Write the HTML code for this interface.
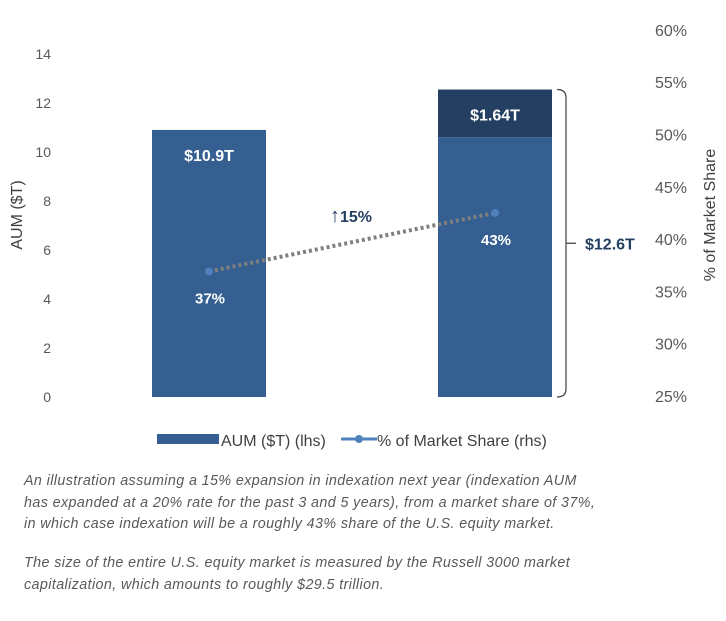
<!DOCTYPE html>
<html><head><meta charset="utf-8"><style>
body{margin:0;background:#fff;width:726px;height:621px;overflow:hidden;font-family:"Liberation Sans",sans-serif}
.note{position:absolute;left:24px;font-style:italic;color:#595959;font-size:14.3px;line-height:21.5px;white-space:nowrap;letter-spacing:0.4px}
</style></head><body>
<svg id="chart" width="726" height="470" style="position:absolute;left:0;top:0" font-family="Liberation Sans, sans-serif"></svg>
<div class="note" style="top:471px">An illustration assuming a 15% expansion in indexation next year (indexation AUM<br>has expanded at a 20% rate for the past 3 and 5 years), from a market share of 37%,<br>in which case indexation will be a roughly 43% share of the U.S. equity market.</div>
<div class="note" style="top:553px">The size of the entire U.S. equity market is measured by the Russell 3000 market<br>capitalization, which amounts to roughly $29.5 trillion.</div>
<script>
const categories=["Current","Next Year"];
const aumBase=[10.9,10.6];
const aumExtra=[0,1.95];
const aumLabels=["$10.9T","$1.64T"];
const share=[37,42.6];
const shareLabels=["37%","43%"];
const leftTicks=[0,2,4,6,8,10,12,14];
const rightTicks=[25,30,35,40,45,50,55,60];
const NS="http://www.w3.org/2000/svg";
const svg=document.getElementById('chart');
function yL(v){return 397-v*24.5;}
function yR(v){return 397-(v-25)*10.46;}
const xC=[209,495],bw=114;
function mk(t,a,txt){const e=document.createElementNS(NS,t);for(const k in a)e.setAttribute(k,a[k]);if(txt!=null)e.textContent=txt;svg.appendChild(e);return e;}
leftTicks.forEach(v=>{const e=mk('text',{x:51,y:yL(v)+5,'text-anchor':'end','font-size':14,fill:'#595959'},v);

});
rightTicks.forEach(v=>{const e=mk('text',{x:655,y:yR(v)+5,'font-size':16,fill:'#595959'},v+'%');

});
let t=mk('text',{x:0,y:0,transform:'translate(22,215) rotate(-90)','text-anchor':'middle','font-size':16,fill:'#404040'},'AUM ($T)');


t=mk('text',{x:0,y:0,transform:'translate(715,215) rotate(-90)','text-anchor':'middle','font-size':16,fill:'#404040'},'% of Market Share');


categories.forEach((c,i)=>{
 const x=xC[i]-bw/2;
 let r=mk('rect',{x:x,y:yL(aumBase[i]),width:bw,height:yL(0)-yL(aumBase[i]),fill:'#355f91'});
 
 
 if(aumExtra[i]>0){
  r=mk('rect',{x:x,y:yL(aumBase[i]+aumExtra[i]),width:bw,height:yL(aumBase[i])-yL(aumBase[i]+aumExtra[i]),fill:'#243f62'});
  
  
 }
 const top=yL(aumBase[i]+aumExtra[i]);
 t=mk('text',{x:xC[i],y:top+31,'text-anchor':'middle','font-size':16,'font-weight':'bold',fill:'#fff'},aumLabels[i]);
 
 
});
let l=mk('line',{x1:xC[0],y1:yR(share[0]),x2:xC[1],y2:yR(share[1]),stroke:'#7f7f7f','stroke-width':4,'stroke-dasharray':'3 3'});


share.forEach((v,i)=>{
 const c=mk('circle',{cx:xC[i],cy:yR(v),r:4,fill:'#4f81bd'});
 
 
 t=mk('text',{x:xC[i]+1,y:yR(v)+32,'text-anchor':'middle','font-size':15,'font-weight':'bold',fill:'#fff'},shareLabels[i]);
 
 
});
t=mk('text',{x:330,y:222,'font-size':16,'font-weight':'bold',fill:'#243f62'},'');


const ts1=document.createElementNS(NS,'tspan');ts1.setAttribute('font-size','20');ts1.setAttribute('font-weight','normal');ts1.textContent='↑';t.appendChild(ts1);
const ts2=document.createElementNS(NS,'tspan');ts2.textContent='15%';t.appendChild(ts2);
const topB=yL(aumBase[1]+aumExtra[1]);
const midB=(topB+397)/2;
l=mk('path',{d:`M557 ${topB} Q566 ${topB} 566 ${topB+8} L566 389 Q566 397 557 397 M566 ${midB} L576 ${midB}`,fill:'none',stroke:'#404040','stroke-width':1.2});


t=mk('text',{x:585,y:midB+6,'font-size':16,'font-weight':'bold',fill:'#243f62'},'$12.6T');


let g=mk('rect',{x:157,y:434,width:62,height:10,fill:'#355f91'});


t=mk('text',{x:221,y:446,'font-size':16,fill:'#404040'},'AUM ($T) (lhs)');


g=mk('line',{x1:341,y1:439,x2:377,y2:439,stroke:'#4f81bd','stroke-width':3});


g=mk('circle',{cx:359,cy:439,r:4,fill:'#4f81bd'});


t=mk('text',{x:377,y:446,'font-size':16,fill:'#404040'},'% of Market Share (rhs)');


</script>
</body></html>
